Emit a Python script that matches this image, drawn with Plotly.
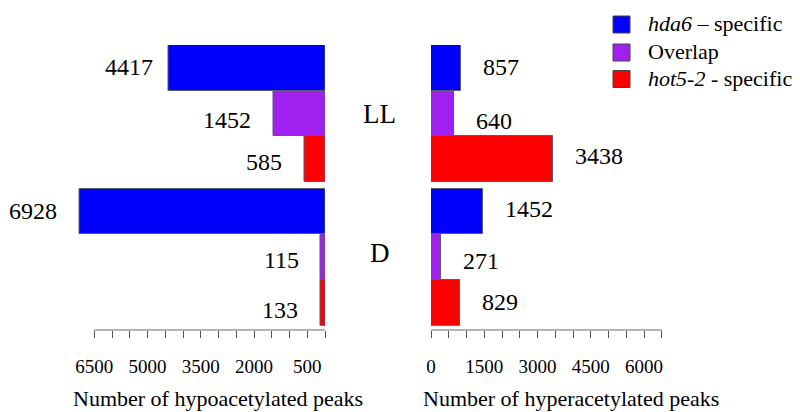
import plotly.graph_objects as go

# Peak counts per condition (rows: hda6-specific, overlap, hot5-2-specific)
conditions = ["LL", "D"]
series_names = ["<i>hda6</i> – specific", "Overlap", "<i>hot5-2</i> - specific"]
series_colors = ["#0000FF", "#A020F0", "#FF0000"]

hypo_LL = [4417, 1452, 585]
hypo_D = [6928, 115, 133]
hyper_LL = [857, 640, 3438]
hyper_D = [1452, 271, 829]

hypo = [hypo_LL, hypo_D]
hyper = [hyper_LL, hyper_D]

axis_ticks = list(range(0, 7000, 500))
hypo_tick_labels = [500, 2000, 3500, 5000, 6500]
hyper_tick_labels = [0, 1500, 3000, 4500, 6000]

W, H = 800, 412
FONT = "Liberation Serif, Times New Roman, serif"
PX_PER_UNIT = 0.0355       # horizontal scale shared by both panels
GROUP_GAP = 0.14           # gap between the LL and D blocks, in bar heights

# small pixel nudges of the count labels (down = positive), per condition / row
hypo_label_dy = [[-1, 6, 3], [0, 3, 7]]
hyper_label_dy = [[-1, 7, -3], [-2, 4, -1]]
hypo_label_gap = [[13, 20, 20], [20, 20, 20]]
condition_label_dy = [0, -4]


def fx(p):
    return p / W


def fy(p):
    return 1 - p / H


n = len(series_names)
positions = [[g * (n + GROUP_GAP) + s for s in range(n)] for g in range(len(conditions))]

# pixel frame of the panels
left_zero, right_zero = 325, 431
top_px, bottom_px, axis_px = 45, 325.7, 330
y_dom = [fy(bottom_px), fy(top_px)]
ymax = positions[-1][-1] + 0.5

fig = go.Figure()

bar_line = dict(color="#5a5a70", width=1)
for s in range(n):
    ys = [positions[g][s] for g in range(len(conditions))]
    fig.add_trace(go.Bar(
        x=[hypo[g][s] for g in range(len(conditions))], y=ys, orientation="h",
        width=1.0, marker=dict(color=series_colors[s], line=bar_line),
        xaxis="x", yaxis="y", showlegend=False, hoverinfo="x",
    ))
    fig.add_trace(go.Bar(
        x=[hyper[g][s] for g in range(len(conditions))], y=ys, orientation="h",
        width=1.0, marker=dict(color=series_colors[s], line=bar_line),
        xaxis="x2", yaxis="y", showlegend=False, hoverinfo="x",
    ))

# carrier trace for the tick axis of the left panel
fig.add_trace(go.Scatter(x=[None], y=[None], xaxis="x3", yaxis="y",
                         showlegend=False, hoverinfo="skip"))

annotations = []
shapes = []
for g in range(len(conditions)):
    for s in range(n):
        annotations.append(dict(
            x=hypo[g][s], y=positions[g][s], xref="x", yref="y",
            text=str(hypo[g][s]), showarrow=False, xanchor="right",
            xshift=-hypo_label_gap[g][s], yshift=-hypo_label_dy[g][s],
            font=dict(family=FONT, size=24, color="black"),
        ))
        annotations.append(dict(
            x=hyper[g][s], y=positions[g][s], xref="x2", yref="y",
            text=str(hyper[g][s]), showarrow=False, xanchor="left",
            xshift=20, yshift=-hyper_label_dy[g][s],
            font=dict(family=FONT, size=24, color="black"),
        ))
    annotations.append(dict(
        x=fx(379.5), y=(positions[g][0] + positions[g][-1]) / 2, xref="paper", yref="y",
        text=conditions[g], showarrow=False, xanchor="center", yanchor="middle",
        yshift=-condition_label_dy[g],
        font=dict(family=FONT, size=27, color="black"),
    ))

annotations.append(dict(
    x=fx(218), y=fy(398), xref="paper", yref="paper",
    text="Number of hypoacetylated peaks", showarrow=False,
    xanchor="center", yanchor="middle", font=dict(family=FONT, size=22, color="black"),
))
annotations.append(dict(
    x=fx(571), y=fy(398), xref="paper", yref="paper",
    text="Number of hyperacetylated peaks", showarrow=False,
    xanchor="center", yanchor="middle", font=dict(family=FONT, size=22, color="black"),
))

# key in the top-right corner
key_left, key_size, key_text_x = 613, 17, 646
key_rows = [24.5, 52.5, 79]
for s in range(n):
    cy = key_rows[s]
    shapes.append(dict(
        type="rect", xref="paper", yref="paper",
        x0=fx(key_left), x1=fx(key_left + key_size),
        y0=fy(cy + key_size / 2), y1=fy(cy - key_size / 2),
        fillcolor=series_colors[s], line=dict(color="#444444", width=1),
    ))
    annotations.append(dict(
        x=fx(key_text_x), y=fy(cy - 1), xref="paper", yref="paper",
        text=series_names[s], showarrow=False, xanchor="left", yanchor="middle",
        font=dict(family=FONT, size=22, color="black"),
    ))

tick_style = dict(
    showline=True, linecolor="#b4b4b4", linewidth=1.5,
    ticks="outside", ticklen=7, tickcolor="#555555", tickwidth=1,
    tickfont=dict(family=FONT, size=19, color="black"),
    ticklabelstandoff=12, showgrid=False, zeroline=False,
    anchor="free", position=fy(axis_px), fixedrange=True, automargin=False,
)

fig.update_layout(
    width=W, height=H, margin=dict(l=0, r=0, t=0, b=0),
    paper_bgcolor="white", plot_bgcolor="rgba(0,0,0,0)",
    barmode="overlay", bargap=0, showlegend=False,
    xaxis=dict(
        domain=[fx(left_zero - 7000 * PX_PER_UNIT), fx(left_zero)],
        range=[7000, 0], visible=False, anchor="free", position=fy(axis_px),
        fixedrange=True, automargin=False,
    ),
    xaxis3=dict(
        domain=[fx(left_zero - 6500 * PX_PER_UNIT), fx(left_zero)],
        range=[6500, 0], tickvals=axis_ticks,
        ticktext=[str(v) if v in hypo_tick_labels else "" for v in axis_ticks],
        **tick_style,
    ),
    xaxis2=dict(
        domain=[fx(right_zero), fx(right_zero + 6500 * PX_PER_UNIT)],
        range=[0, 6500], tickvals=axis_ticks,
        ticktext=[str(v) if v in hyper_tick_labels else "" for v in axis_ticks],
        **tick_style,
    ),
    yaxis=dict(domain=y_dom, range=[ymax, -0.5], visible=False, fixedrange=True,
               automargin=False),
    annotations=annotations,
    shapes=shapes,
)

fig.write_html("out.html")
